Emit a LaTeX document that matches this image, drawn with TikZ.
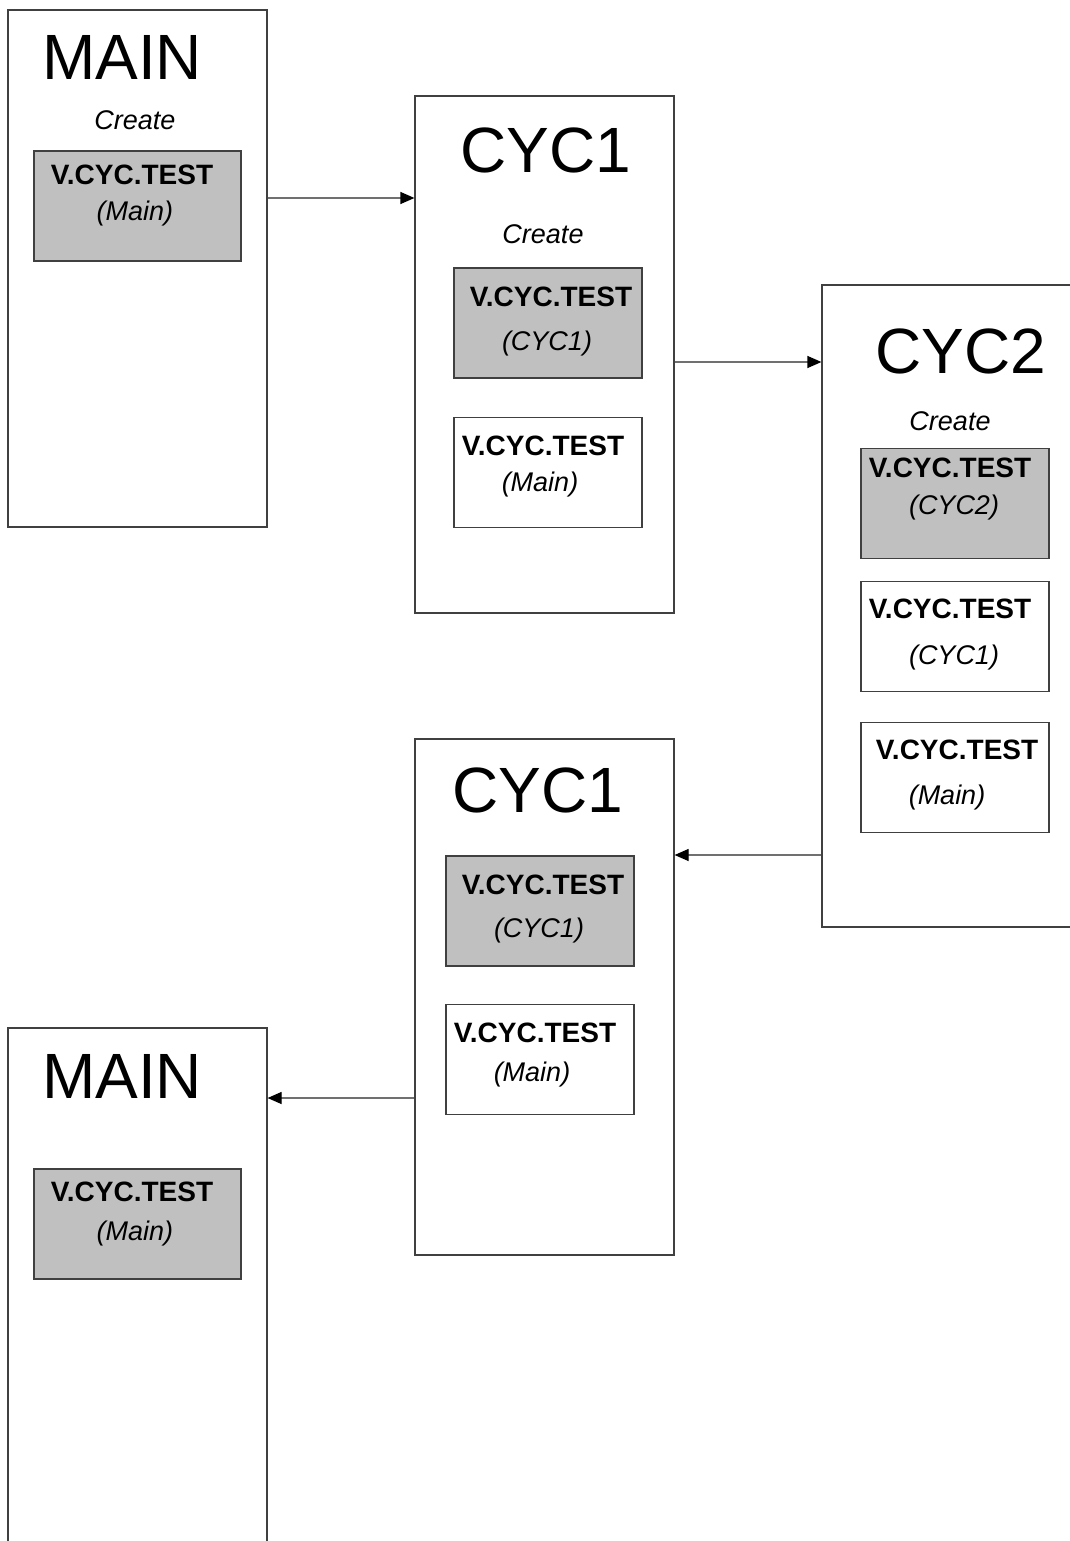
\documentclass[tikz,border=0pt]{standalone}
\usepackage{fontspec}
\setmainfont{Liberation Sans}
\usetikzlibrary{arrows.meta}
\definecolor{boxgray}{HTML}{C0C0C0}
\definecolor{edge}{HTML}{404040}
\definecolor{arrline}{HTML}{707070}
\tikzset{
  frame/.style={draw=edge, line width=1.2pt, fill=white, inner sep=0pt, minimum width=259pt},
  inbox/.style={draw=edge, line width=1.2pt, inner sep=0pt, minimum width=188pt, minimum height=110pt},
  shaded/.style={inbox, fill=boxgray},
  plain/.style={inbox, fill=white},
  title/.style={font=\fontsize{64}{72}\selectfont, inner sep=0pt},
  lbl/.style={font=\fontsize{28}{32}\selectfont\bfseries, inner sep=0pt},
  sub/.style={font=\fontsize{27}{31}\selectfont\itshape, inner sep=0pt},
  arr/.style={draw=arrline, line width=1.2pt, -{Triangle[length=14pt,width=12pt,fill=black,color=black]}}
}
\begin{document}
\begin{tikzpicture}[x=1pt,y=-1pt]
\useasboundingbox (0,0) rectangle (1070,1541);
\clip (0,0) rectangle (1070,1541);
\fill[white] (0,0) rectangle (1070,1541);

% MAIN (top)
\node[frame, minimum height=517pt] (m1) at (137.5,268.5) {};
\node[title] (m1t) at (122,57) {MAIN};
\node[sub] (m1c) at (135,120) {Create};
\node[shaded, minimum width=207pt] (m1b) at (137.5,206) {};
\node[lbl] (m1bl) at (132,175) {V.CYC.TEST};
\node[sub] (m1bs) at (135,214) {(Main)};

% CYC1 (top)
\node[frame, minimum height=517pt] (c1) at (544.5,354.5) {};
\node[title] (c1t) at (546,150) {CYC1};
\node[sub] (c1c) at (543,234) {Create};
\node[shaded] (c1b) at (548,323) {};
\node[lbl] (c1bl) at (551,297) {V.CYC.TEST};
\node[sub] (c1bs) at (547,344) {(CYC1)};
\node[plain] (c1w) at (548,472.5) {};
\node[lbl] (c1wl) at (543,446) {V.CYC.TEST};
\node[sub] (c1ws) at (540,485) {(Main)};

% CYC2
\node[frame, minimum width=280pt, minimum height=642pt] (c2) at (962,606) {};
\node[title] (c2t) at (961,351) {CYC2};
\node[sub] (c2c) at (950,421) {Create};
\node[shaded] (c2b) at (955,503.5) {};
\node[lbl] (c2bl) at (950,468) {V.CYC.TEST};
\node[sub] (c2bs) at (954,508) {(CYC2)};
\node[plain] (c2w) at (955,636.5) {};
\node[lbl] (c2wl) at (950,609) {V.CYC.TEST};
\node[sub] (c2ws) at (954,658) {(CYC1)};
\node[plain] (c2m) at (955,777.5) {};
\node[lbl] (c2ml) at (957,750) {V.CYC.TEST};
\node[sub] (c2ms) at (947,798) {(Main)};

% CYC1 (bottom)
\node[frame, minimum height=516pt] (c3) at (544.5,997) {};
\node[title] (c3t) at (538,790) {CYC1};
\node[shaded] (c3b) at (540,911) {};
\node[lbl] (c3bl) at (543,885) {V.CYC.TEST};
\node[sub] (c3bs) at (539,931) {(CYC1)};
\node[plain] (c3w) at (540,1059.5) {};
\node[lbl] (c3wl) at (535,1033) {V.CYC.TEST};
\node[sub] (c3ws) at (532,1074) {(Main)};

% MAIN (bottom)
\node[frame, minimum height=540pt] (m2) at (137.5,1298) {};
\node[title] (m2t) at (122,1076) {MAIN};
\node[shaded, minimum width=207pt] (m2b) at (137.5,1224) {};
\node[lbl] (m2bl) at (132,1192) {V.CYC.TEST};
\node[sub] (m2bs) at (135,1233) {(Main)};

% connectors
\coordinate (y1) at (0,198);
\coordinate (y2) at (0,362);
\coordinate (y3) at (0,855);
\coordinate (y4) at (0,1098);
\draw[arr] (m1.east |- y1) -- (c1.west |- y1);
\draw[arr] (c1.east |- y2) -- (c2.west |- y2);
\draw[arr] (c2.west |- y3) -- (c3.east |- y3);
\draw[arr] (c3.west |- y4) -- (m2.east |- y4);
\end{tikzpicture}
\end{document}
